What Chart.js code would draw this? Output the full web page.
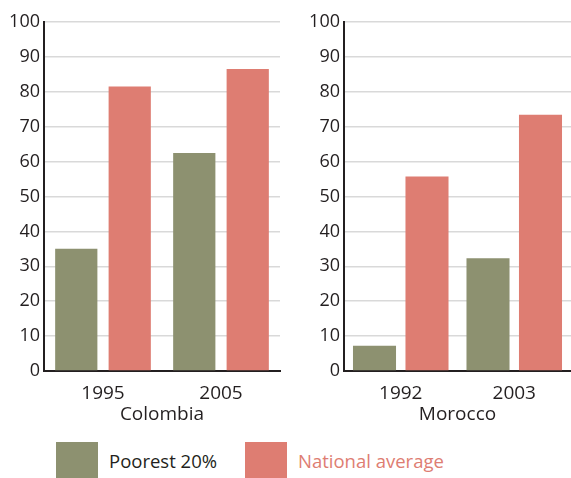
<!DOCTYPE html>
<html>
<head>
<meta charset="utf-8">
<script src="https://cdn.jsdelivr.net/npm/chart.js"></script>
<style>
  body { margin: 0; background: #fff; width: 571px; height: 478px; position: relative; overflow: hidden; font-family: "Open Sans", sans-serif; }
  #left { position: absolute; left: 0; top: 0; }
  #right { position: absolute; left: 290px; top: 0; }
  .legend-item { position: absolute; top: 442px; height: 36px; display: flex; align-items: center; font-size: 18.5px; }
  .legend-box { width: 42px; height: 36px; margin-right: 11px; }
</style>
</head>
<body>
<canvas id="left" width="290" height="430"></canvas>
<canvas id="right" width="281" height="430"></canvas>
<div id="legend"></div>

<script>
  // data
  const seriesNames = ['Poorest 20%', 'National average'];
  const seriesColors = ['#8d9170', '#de7d72'];
  const legendTextColors = ['#231f20', '#de7d72'];

  const colombiaYears = ['1995', '2005'];
  const colombiaPoorest = [35, 62.5];
  const colombiaNational = [81.5, 86.5];

  const moroccoYears = ['1992', '2003'];
  const moroccoPoorest = [7.2, 32.3];
  const moroccoNational = [55.7, 73.4];

  const yMin = 0, yMax = 100, yStep = 10;

  const yFont = { family: '"Open Sans", sans-serif', size: 18 };
  const xFont = { family: '"Open Sans", sans-serif', size: 19 };
  const textColor = '#231f20';

  function makeChart(id, country, years, poorest, national, axisWidth, padRight, catPct, barPct) {
    const ctx = document.getElementById(id).getContext('2d');
    return new Chart(ctx, {
      type: 'bar',
      data: {
        labels: years,
        datasets: [
          { label: seriesNames[0], data: poorest, backgroundColor: seriesColors[0] },
          { label: seriesNames[1], data: national, backgroundColor: seriesColors[1] }
        ]
      },
      options: {
        responsive: false,
        animation: false,
        categoryPercentage: catPct,
        barPercentage: barPct,
        layout: { padding: { top: 22, right: padRight, left: 0, bottom: 0 } },
        plugins: { legend: { display: false }, tooltip: { enabled: false } },
        scales: {
          x: {
            grid: { display: false },
            border: { display: true, color: textColor, width: 2 },
            ticks: { font: xFont, color: textColor, padding: 3 },
            title: { display: true, text: country, font: xFont, color: textColor, padding: { top: 0 } },
            afterFit: s => { s.height = 59; }
          },
          y: {
            min: yMin,
            max: yMax,
            grid: { color: '#d9d9d9', lineWidth: 1.5, drawTicks: false },
            border: { display: true, color: textColor, width: 2 },
            ticks: { stepSize: yStep, font: yFont, color: textColor, padding: 4 },
            afterFit: s => { s.width = axisWidth; }
          }
        }
      }
    });
  }

  makeChart('left', 'Colombia', colombiaYears, colombiaPoorest, colombiaNational, 44, 10, 0.906, 0.79);
  makeChart('right', 'Morocco', moroccoYears, moroccoPoorest, moroccoNational, 54, 0, 0.925, 0.82);

  // legend below both panels
  const legendLeft = [56, 245];
  const legend = document.getElementById('legend');
  seriesNames.forEach((name, i) => {
    const item = document.createElement('div');
    item.className = 'legend-item';
    item.style.left = legendLeft[i] + 'px';
    item.style.color = legendTextColors[i];
    item.innerHTML = '<div class="legend-box" style="background:' + seriesColors[i] + '"></div><span>' + name + '</span>';
    legend.appendChild(item);
  });
</script>
</body>
</html>
